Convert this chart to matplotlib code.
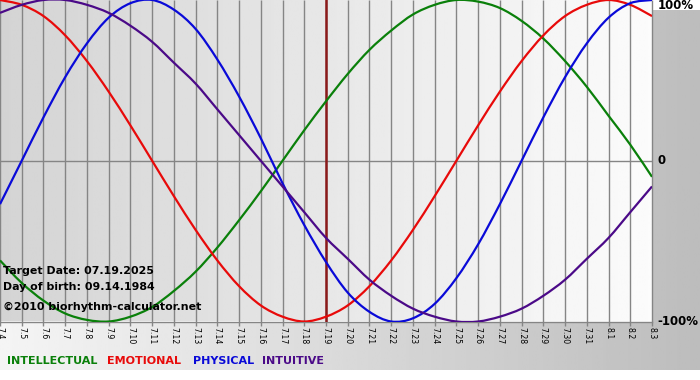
import matplotlib
matplotlib.use('Agg')
import matplotlib.pyplot as plt
from matplotlib.path import Path
from matplotlib.patches import PathPatch
import numpy as np

# day labels 7.4 .. 8.3
dates = ['7.4', '7.5', '7.6', '7.7', '7.8', '7.9', '7.10', '7.11', '7.12', '7.13', '7.14',
         '7.15', '7.16', '7.17', '7.18', '7.19', '7.20', '7.21', '7.22', '7.23', '7.24',
         '7.25', '7.26', '7.27', '7.28', '7.29', '7.30', '7.31', '8.1', '8.2', '8.3']
target_idx = 15  # 7.19

intellectual = [-0.62, -0.76, -0.87, -0.95, -0.99, -1.00, -0.97, -0.91, -0.81, -0.69, -0.54,
                -0.37, -0.19, 0.00, 0.19, 0.37, 0.54, 0.69, 0.81, 0.91, 0.97,
                1.00, 0.99, 0.95, 0.87, 0.76, 0.62, 0.46, 0.28, 0.10, -0.10]
emotional = [1.00, 0.97, 0.90, 0.78, 0.62, 0.43, 0.22, 0.00, -0.22, -0.43, -0.62,
             -0.78, -0.90, -0.97, -1.00, -0.97, -0.90, -0.78, -0.62, -0.43, -0.22,
             0.00, 0.22, 0.43, 0.62, 0.78, 0.90, 0.97, 1.00, 0.97, 0.90]
physical = [-0.27, 0.00, 0.27, 0.52, 0.73, 0.89, 0.98, 1.00, 0.94, 0.82, 0.63,
            0.40, 0.14, -0.14, -0.40, -0.63, -0.82, -0.94, -1.00, -0.98, -0.89,
            -0.73, -0.52, -0.27, 0.00, 0.27, 0.52, 0.73, 0.89, 0.98, 1.00]
intuitive = [0.92, 0.97, 1.00, 1.00, 0.97, 0.92, 0.84, 0.74, 0.61, 0.48, 0.32,
             0.16, 0.00, -0.16, -0.32, -0.48, -0.61, -0.74, -0.84, -0.92, -0.97,
             -1.00, -1.00, -0.97, -0.92, -0.84, -0.74, -0.61, -0.48, -0.32, -0.16]

series_names = ['INTELLECTUAL', 'EMOTIONAL', 'PHYSICAL', 'INTUITIVE']
series_colors = ['#0a800a', '#e80a0a', '#0a0ad8', '#4b0a88']
info_lines = ['Target Date: 07.19.2025', 'Day of birth: 09.14.1984',
              '\u00a92010 biorhythm-calculator.net']


def smooth_path(xs, ys):
    # catmull-rom through the daily points, drawn as cubic bezier segments
    p = np.column_stack([xs, ys]).astype(float)
    ext = np.vstack([p[0], p, p[-1]])
    verts = [p[0]]
    codes = [Path.MOVETO]
    for i in range(len(p) - 1):
        p0, p1, p2, p3 = ext[i], ext[i + 1], ext[i + 2], ext[i + 3]
        verts += [p1 + (p2 - p0) / 6, p2 - (p3 - p1) / 6, p2]
        codes += [Path.CURVE4] * 3
    return Path(verts, codes)


W, H = 700, 380
fig = plt.figure(figsize=(W / 100, H / 100), dpi=100)
fig.patch.set_facecolor('white')

# grey gradient behind everything
bg = fig.add_axes([0, 10 / H, 1, 360 / H])
bg.imshow(np.linspace(0.96, 0.74, 256).reshape(1, -1), aspect='auto',
          cmap='gray', vmin=0, vmax=1, extent=[0, 1, 0, 1])
bg.axis('off')

ax = fig.add_axes([0, (H - 321.5) / H, 652 / W, 321.5 / H])
x = np.arange(len(dates))
ax.set_xlim(0, len(dates) - 1)
ax.set_ylim(-1, 1)
ax.imshow(np.linspace(0.83, 0.985, 256).reshape(1, -1), aspect='auto',
          cmap='gray', vmin=0, vmax=1, extent=[0, len(dates) - 1, -1, 1], zorder=0)

ax.vlines(x, -1, 1, color='#858585', lw=1, zorder=1, clip_on=False)
ax.axhline(0, color='#858585', lw=1, zorder=1)
ax.axhline(-1, color='#858585', lw=1, zorder=1, clip_on=False)
ax.axvline(target_idx, color='#8b1a1a', lw=1.8, zorder=2)

for vals, c in zip([intellectual, emotional, physical, intuitive], series_colors):
    ax.add_patch(PathPatch(smooth_path(x, vals), facecolor='none', edgecolor=c,
                           lw=1.6, zorder=3))

for s in ax.spines.values():
    s.set_visible(False)
ax.set_xticks(x)
ax.set_xticklabels(dates, rotation=270, fontsize=5.6, va='top', ha='center')
ax.tick_params(axis='x', length=3, width=1, color='#858585', pad=1)
ax.set_yticks([])

for val, lab, dy in [(1, '100%', -4), (0, '0', 0), (-1, '-100%', 0)]:
    ax.annotate(lab, xy=(len(dates) - 1, val), xytext=(4, dy), textcoords='offset points',
                ha='left', va='center', fontsize=8.5, fontweight='bold', annotation_clip=False)

for line, yp in zip(info_lines, [271.5, 287, 307]):
    fig.text(3 / W, 1 - yp / H, line, fontsize=7.9, fontweight='bold', va='center', ha='left')

for name, c, xp in zip(series_names, series_colors, [7, 107, 193, 262]):
    fig.text(xp / W, 1 - 361.5 / H, name, color=c, fontsize=8, fontweight='bold',
             va='center', ha='left')

fig.savefig('out.png', dpi=100)
